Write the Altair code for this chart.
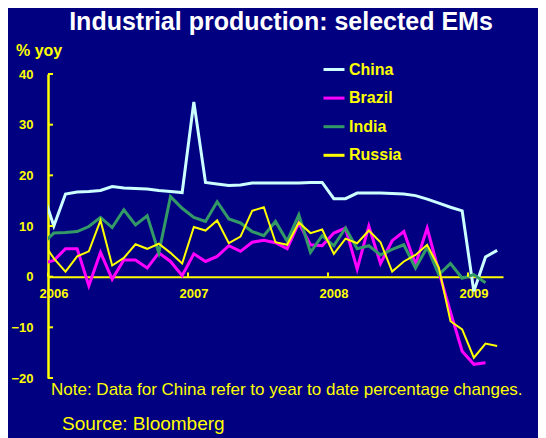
import altair as alt
import pandas as pd

series_names = ["China", "Brazil", "India", "Russia"]
series_colors = ["#CCFFFF", "#FF00FF", "#339966", "#FFFF00"]
series_widths = [3, 3, 3, 2]

# Monthly % yoy, Dec 2005 .. Mar 2009 (Dec 2005 sits left of the axis and is clipped)
china = [17.0, 10.0, 16.3, 16.7, 16.8, 17.0, 17.8, 17.5, 17.4, 17.3, 17.0,
         16.8, 16.6, 34.5, 18.6, 18.3, 18.0, 18.1, 18.5, 18.5, 18.5,
         18.5, 18.5, 18.6, 18.6, 15.4, 15.4, 16.5, 16.5, 16.5, 16.4,
         16.3, 16.0, 15.3, 14.5, 13.7, 13.0, -2.9, 3.9, 5.2]
brazil = [2.6, 3.2, 5.5, 5.5, -1.8, 4.8, -0.5, 3.3, 3.3, 1.7, 4.7,
          3.0, 0.2, 4.5, 3.0, 4.0, 6.1, 5.0, 6.8, 7.2, 6.7,
          5.5, 10.6, 6.3, 6.1, 8.6, 9.6, 1.5, 10.0, 2.6, 7.1,
          8.9, 2.4, 9.6, 1.0, -7.0, -14.7, -17.3, -17.0, None]
india = [6.4, 8.6, 8.7, 8.9, 9.9, 11.7, 9.7, 13.2, 10.2, 12.0, 4.7,
         15.8, 13.5, 11.7, 10.9, 14.8, 11.4, 10.6, 8.9, 8.1, 10.9,
         7.0, 12.2, 4.8, 8.1, 6.1, 9.6, 5.5, 6.1, 4.3, 5.4,
         6.3, 1.7, 5.8, 0.4, 2.6, -0.3, 0.4, -1.2, None]
russia = [7.0, 3.6, 1.0, 4.0, 5.0, 11.1, 2.2, 3.7, 6.4, 5.5, 6.5,
          4.7, 2.6, 9.8, 9.1, 11.1, 6.6, 7.9, 13.0, 13.7, 6.8,
          6.3, 10.7, 8.6, 9.3, 4.5, 7.5, 6.6, 9.1, 6.8, 1.0,
          3.0, 4.3, 6.3, 1.8, -8.8, -10.4, -16.0, -13.2, -13.7]

year_labels = ["2006", "2007", "2008", "2009"]
year_ticks = [0, 12, 24, 36]
y_ticks = [-20, -10, 0, 10, 20, 30, 40]

title_text = "Industrial production: selected EMs"
unit_text = "% yoy"
note_text = "Note: Data for China refer to year to date percentage changes."
source_text = "Source: Bloomberg"

W, H = 455, 304
YMIN, YMAX = -20, 40
FONT = "Liberation Sans"
YELLOW = "#FFFF00"

rows = []
for name, vals in zip(series_names, [china, brazil, india, russia]):
    for k, v in enumerate(vals):
        if v is None:
            continue
        rows.append({"series": name, "m": k - 0.5, "v": v})
df = pd.DataFrame(rows)

xscale = alt.Scale(domain=[0, 39], nice=False, zero=False)
yscale = alt.Scale(domain=[YMIN, YMAX], nice=False, zero=False)
cscale = alt.Scale(domain=series_names, range=series_colors)

label_expr = "[" + ",".join(f"'{y}'" for y in year_labels) + "][datum.value/12]"

x_axis = alt.Axis(values=year_ticks, labelExpr=label_expr, title=None, grid=False,
                  ticks=False, domainColor=YELLOW, domainWidth=2,
                  labelColor=YELLOW, labelFont=FONT, labelFontWeight="bold",
                  labelFontSize=13, labelPadding=11, labelOffset=5.5,
                  labelFlush=False, labelOverlap=False,
                  offset=-H * (0 - YMIN) / (YMAX - YMIN))
y_axis = alt.Axis(values=y_ticks, title=None, grid=False, ticks=False,
                  domainColor=YELLOW, domainWidth=2.5,
                  labelColor=YELLOW, labelFont=FONT, labelFontWeight="bold",
                  labelFontSize=13, labelPadding=15, labelOverlap=False,
                  labelFlush=False)

legend = alt.Legend(orient="none", legendX=274, legendY=-16.5, title=None,
                    symbolType="stroke", symbolSize=441, symbolStrokeWidth=3,
                    labelFont=FONT, labelFontWeight="bold", labelFontSize=16,
                    labelColor=YELLOW, rowPadding=8.6, labelOffset=3, padding=0,
                    direction="vertical")

layers = []
for name, w in zip(series_names, series_widths):
    layers.append(
        alt.Chart(df).transform_filter(alt.datum.series == name)
        .mark_line(strokeWidth=w, clip=True)
        .encode(
            x=alt.X("m:Q", scale=xscale, axis=x_axis),
            y=alt.Y("v:Q", scale=yscale, axis=y_axis),
            color=alt.Color("series:N", scale=cscale, legend=legend),
        )
    )

ytick_rules = alt.Chart(pd.DataFrame({"t": y_ticks})).mark_rule(
    color=YELLOW, strokeWidth=2).encode(
    y=alt.Y("t:Q", scale=yscale, axis=y_axis), x=alt.value(0), x2=alt.value(5))

xtick_rules = alt.Chart(pd.DataFrame({"t": year_ticks})).mark_rule(
    color=YELLOW, strokeWidth=2).encode(
    x=alt.X("t:Q", scale=xscale, axis=x_axis), y=alt.datum(0), y2=alt.datum(0.8))


def label(text, x, y, size, color, weight="normal", align="left"):
    return alt.Chart(pd.DataFrame({"t": [text]})).mark_text(
        font=FONT, fontSize=size, fontWeight=weight, color=color,
        align=align, baseline="alphabetic").encode(
        text="t:N", x=alt.value(x), y=alt.value(y))


texts = [
    label(title_text, 233, -44, 25, "#FFFFFF", "bold", "center"),
    label(unit_text, -32, -18, 16, YELLOW, "bold"),
    label(note_text, 3, 321, 17, YELLOW),
    label(source_text, 14, 356, 19, YELLOW),
]

chart = alt.layer(*layers, ytick_rules, xtick_rules, *texts).properties(
    width=W, height=H,
    autosize=alt.AutoSizeParams(type="none"),
    padding={"left": 40, "top": 66, "right": 35, "bottom": 70},
    background="#000080",
).configure_view(stroke=None)

chart.save("out.html", embed_options={"renderer": "svg", "actions": False})
